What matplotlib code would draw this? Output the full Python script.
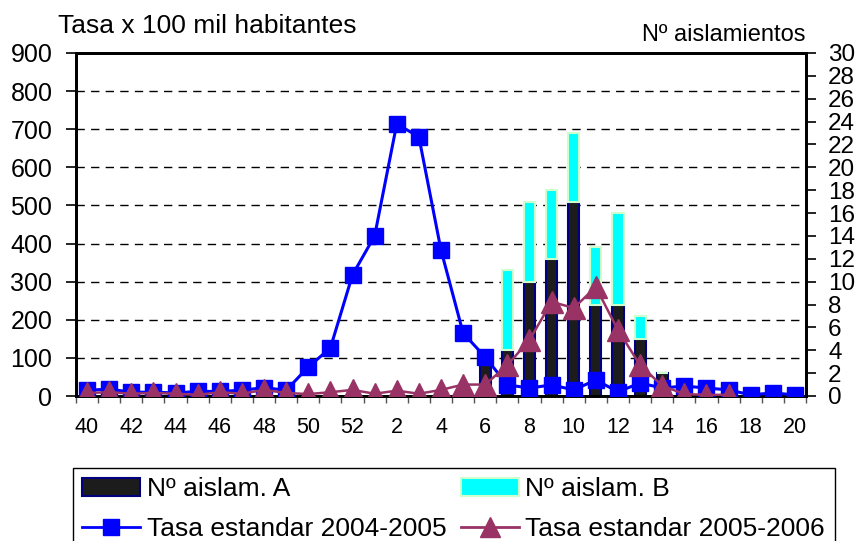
import matplotlib
matplotlib.use('Agg')
import matplotlib.pyplot as plt
from matplotlib.patches import Rectangle
from matplotlib.lines import Line2D
import numpy as np

plt.rcParams['font.family'] = ['Liberation Sans', 'DejaVu Sans']

# semanas epidemiologicas (40 a 52, luego 1 a 20)
semanas = ['40', '41', '42', '43', '44', '45', '46', '47', '48', '49', '50', '51', '52',
           '1', '2', '3', '4', '5', '6', '7', '8', '9', '10', '11', '12', '13', '14',
           '15', '16', '17', '18', '19', '20']

# tasa x 100 mil (eje izquierdo)
tasa_0405 = [15, 18, 10, 10, 8, 12, 12, 15, 22, 15, 76, 126, 318,
             420, 714, 680, 383, 165, 102, 29, 21, 29, 16, 42, 11, 34, 21,
             26, 21, 16, 3, 8, 3]
tasa_0506 = [8, 10, 6, 8, 6, 3, 10, 6, 16, 8, 5, 10, 16,
             6, 14, 6, 16, 30, 30, 81, 147, 247, 231, 286, 173, 81, 27,
             5, 3, 3, np.nan, np.nan, np.nan]

# numero de aislamientos (eje derecho)
aislam_a = [0, 0, 0, 0, 0, 0, 0, 0, 0, 0, 0, 0, 0,
            0, 0, 0, 0, 0, 3, 4, 10, 12, 17, 8, 8, 5, 2,
            0, 0, 0, 0, 0, 0]
aislam_b = [0, 0, 0, 0, 0, 0, 0, 0, 0, 0, 0, 0, 0,
            0, 0, 0, 0, 0, 0, 7, 7, 6, 6, 5, 8, 2, 0,
            0, 0, 0, 0, 0, 0]

left_ticks = list(range(0, 1000, 100))
right_ticks = list(range(0, 32, 2))

azul = '#0000ff'
morado = '#993366'

fig = plt.figure(figsize=(8.58, 5.41), dpi=100)
ax = fig.add_axes([76/858, 145/541, 730/858, 343/541])
ax2 = ax.twinx()

# lines on top of the bars
ax.set_zorder(ax2.get_zorder() + 1)
ax.patch.set_visible(False)

x = np.arange(len(semanas))

# dashed grid drawn in the right axis so the bars cover it
for v in left_ticks[1:-1]:
    ax2.axhline(v * 30 / 900, color='black', lw=1, dashes=(6, 4.5), zorder=0)

a = np.array(aislam_a)
b = np.array(aislam_b)
ax2.bar(x, a, width=0.5, color='#1c1c1c', edgecolor='#000080', linewidth=1.5, zorder=2)
ax2.bar(x, b, width=0.5, bottom=a, color='#00ffff', edgecolor='#ccffcc', linewidth=1.5, zorder=2)

ax.plot(x, tasa_0405, color=azul, lw=2.2, marker='s', markersize=12,
        markerfacecolor=azul, markeredgecolor=azul, zorder=3)
ax.plot(x, tasa_0506, color=morado, lw=1.8, marker='^', markersize=16,
        markerfacecolor=morado, markeredgecolor=morado, zorder=4)

ax.set_xlim(-0.5, len(semanas) - 0.5)
ax.set_ylim(0, 900)
ax2.set_ylim(0, 30)

ax.set_yticks(left_ticks)
ax.tick_params(axis='y', labelsize=18, length=7, width=1.2, pad=10)
ax2.set_yticks(right_ticks)
ax2.tick_params(axis='y', labelsize=17.5, length=7, width=1.2, pad=9)

# x labels every two weeks, tick marks between categories
ax.set_xticks(x[::2])
ax.set_xticklabels(semanas[::2])
ax.set_xticks(np.arange(-0.5, len(semanas), 1), minor=True)
ax.tick_params(axis='x', which='major', length=0, labelsize=15.5, pad=15)
ax.tick_params(axis='x', which='minor', length=5, width=1, color='#555555')

for sp in ax.spines.values():
    sp.set_linewidth(2)
for sp in ax2.spines.values():
    sp.set_linewidth(2)

fig.text(58/858, 1 - 33/541, 'Tasa x 100 mil habitantes', fontsize=19, va='baseline')
fig.text(805/858, 1 - 41/541, 'Nº aislamientos', fontsize=17, ha='right', va='baseline')

# legend: frame drawn by hand (bottom edge falls off the figure)
fig.patches.append(Rectangle((73/858, -0.05), (835-73)/858, 0.05 + 1 - 468/541,
                             transform=fig.transFigure, fill=False, edgecolor='black',
                             linewidth=1, figure=fig))

handles = [
    Rectangle((0, 0), 1, 1, facecolor='#1c1c1c', edgecolor='#000080', linewidth=1.5),
    Line2D([], [], color=azul, lw=2, marker='s', markersize=11, markerfacecolor=azul),
    Rectangle((0, 0), 1, 1, facecolor='#00ffff', edgecolor='#ccffcc', linewidth=1.5),
    Line2D([], [], color=morado, lw=2, marker='^', markersize=14, markerfacecolor=morado),
]
labels = ['Nº aislam. A', 'Tasa estandar 2004-2005', 'Nº aislam. B', 'Tasa estandar 2005-2006']
fig.legend(handles, labels, ncol=2, loc='upper left', bbox_to_anchor=(82/858, 1 - 477/541),
           frameon=False, fontsize=19, handlelength=2.2, handletextpad=0.25,
           columnspacing=0.55, labelspacing=0.62, borderpad=0, borderaxespad=0)

fig.savefig('out.png', dpi=100)
